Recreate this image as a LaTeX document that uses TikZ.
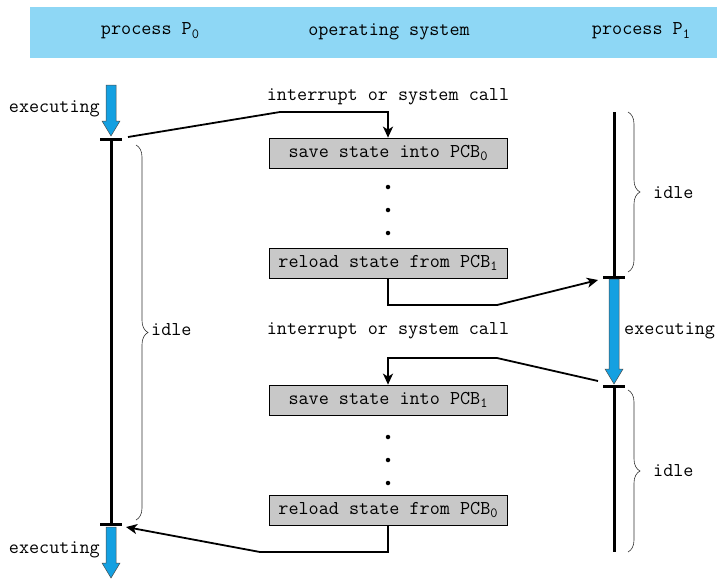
\documentclass[tikz,border=0pt]{standalone}
\usepackage{fontspec}
\usetikzlibrary{decorations.pathreplacing,arrows.meta}
\definecolor{hdr}{RGB}{142,215,245}
\definecolor{exblue}{RGB}{20,160,225}
\definecolor{boxgray}{RGB}{200,200,200}
\newcommand{\lowsub}[1]{\raisebox{-0.4ex}{\fontsize{14}{14}\selectfont #1}}
\begin{document}
\begin{tikzpicture}[x=1pt,y=-1pt,
  every node/.style={font=\fontsize{19.6}{21}\selectfont\ttfamily, inner sep=0pt},
  box/.style={draw, fill=boxgray, minimum width=238pt, minimum height=30pt, line width=0.7pt},
  timeline/.style={line width=3pt},
  tick/.style={line width=3pt},
  conn/.style={line width=1.8pt},
  arr/.style={conn, -{Stealth[length=11pt,width=10pt,inset=3pt]}},
  dot/.style={circle, fill=black, minimum size=4.5pt},
  bracestyle/.style={decorate, decoration={brace, amplitude=12pt}, line width=0.6pt, draw=black!80},
  exarrow/.style={fill=exblue, draw=black!70, line width=0.5pt}
]
\useasboundingbox (0,0) rectangle (717,579);
% header
\fill[hdr] (30,7) rectangle (717,58);
\node (h0) at (150,31) {process P\lowsub{0}};
\node (hos) at (389,32) {operating system};
\node (h1) at (641,31) {process P\lowsub{1}};

% ---- P0 timeline
\coordinate (p0a) at (111,139);
\coordinate (p0b) at (111,524);
\draw[timeline] (p0a) -- (p0b);
\draw[tick] (100,139) -- (122,139);
\draw[tick] (100,524) -- (122,524);
% blue arrows P0
\path[exarrow] (106,85) -- (116,85) -- (116,121) -- (120,121) -- (111,136) -- (102,121) -- (106,121) -- cycle;
\path[exarrow] (106,527) -- (116,527) -- (116,563) -- (120,563) -- (111,578) -- (102,563) -- (106,563) -- cycle;
\node[anchor=east] (ex0a) at (100,109) {executing};
\node[anchor=east] (ex0b) at (100,550) {executing};
\draw[bracestyle] (136,145) -- (136,520);
\node[anchor=west] (idle0) at (151,330) {idle};

% ---- P1 timeline
\draw[timeline] (614,112) -- (614,277);
\draw[timeline] (614,386) -- (614,552);
\draw[tick] (603,277) -- (625,277);
\draw[tick] (603,386) -- (625,386);
\path[exarrow] (609,279) -- (619,279) -- (619,369) -- (623,369) -- (614,384) -- (605,369) -- (609,369) -- cycle;
\node[anchor=west] (ex1) at (624,331) {executing};
\draw[bracestyle] (628,112) -- (628,272);
\node[anchor=west] (idle1a) at (653,193) {idle};
\draw[bracestyle] (628,390) -- (628,552);
\node[anchor=west] (idle1b) at (653,471) {idle};

% ---- OS column
\node (irq1) at (388,97) {interrupt or system call};
\node[box] (b1) at (388,153) {save state into PCB\lowsub{0}};
\node[dot] (d1) at (388,187) {};
\node[dot] (d2) at (388,210) {};
\node[dot] (d3) at (388,233) {};
\node[box] (b2) at (388,263) {reload state from PCB\lowsub{1}};
\node (irq2) at (388,331) {interrupt or system call};
\node[box] (b3) at (388,400) {save state into PCB\lowsub{1}};
\node[dot] (d4) at (388,437) {};
\node[dot] (d5) at (388,460) {};
\node[dot] (d6) at (388,483) {};
\node[box] (b4) at (388,510) {reload state from PCB\lowsub{0}};

% connectors
\coordinate (c1s) at (128,137);
\coordinate (c2e) at (598,280);
\coordinate (c3s) at (598,381);
\coordinate (c4e) at (126,527);
\draw[arr] (c1s) -- (280,112) -- (388,112) -- (b1.north);
\draw[arr] (b2.south) -- (388,305) -- (497,305) -- (c2e);
\draw[arr] (c3s) -- (497,358) -- (388,358) -- (b3.north);
\draw[arr] (b4.south) -- (388,552) -- (260,552) -- (c4e);
\end{tikzpicture}
\end{document}
